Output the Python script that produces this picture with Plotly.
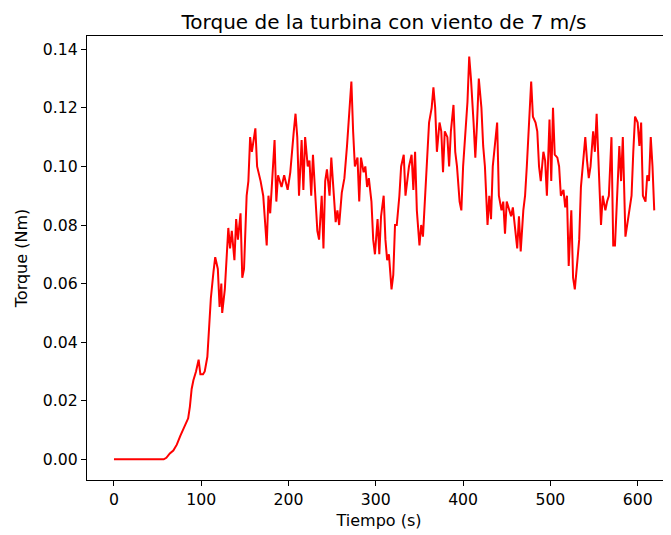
import plotly.graph_objects as go

# Time (s) and torque (Nm)
tiempo = [0, 10, 20, 30, 40, 50, 57, 60, 64, 68, 72, 76, 79, 82, 85, 87, 89, 91, 94, 97, 99,
          102, 104, 107, 109, 111, 114, 116, 119, 121, 123, 124, 127, 129, 131, 133, 135, 138,
          140, 142, 145, 147, 149, 152, 154, 156, 158, 162, 164, 168, 171, 175, 177, 179, 182,
          184, 186, 188, 192, 195, 199, 202, 206, 208, 210, 212, 215, 217, 219, 222, 224, 226,
          228, 231, 233, 235, 238, 240, 242, 244, 247, 249, 251, 254, 256, 258, 261, 264, 267,
          270, 272, 274, 276, 279, 281, 283, 286, 288, 290, 292, 295, 297, 299, 302, 304, 306,
          309, 311, 313, 315, 318, 320, 322, 324, 327, 329, 332, 334, 336, 338, 341, 343, 345,
          347, 350, 352, 354, 357, 359, 361, 364, 366, 368, 370, 373, 375, 377, 379, 382, 384,
          386, 389, 391, 393, 396, 398, 400, 403, 405, 407, 409, 412, 414, 416, 418, 421, 423,
          425, 428, 430, 432, 434, 437, 439, 441, 444, 446, 448, 450, 453, 455, 457, 460, 462,
          464, 466, 469, 471, 473, 476, 478, 480, 483, 485, 487, 489, 492, 494, 496, 499, 501,
          503, 505, 508, 510, 512, 515, 517, 519, 521, 524, 526, 528, 531, 533, 535, 537, 540,
          542, 544, 546, 549, 551, 553, 556, 558, 560, 563, 565, 567, 570, 572, 574, 576, 579,
          581, 583, 586, 588, 590, 593, 595, 597, 600, 602, 604, 606, 609, 611, 613, 615, 617,
          619]
torque = [0.0, 0.0, 0.0, 0.0, 0.0, 0.0, 0.0, 0.0005, 0.002, 0.003, 0.005, 0.008, 0.010, 0.012,
          0.014, 0.018, 0.024, 0.027, 0.030, 0.034, 0.029, 0.029, 0.030, 0.035, 0.045, 0.055,
          0.064, 0.069, 0.065, 0.052, 0.060, 0.050, 0.058, 0.070, 0.079, 0.072, 0.078, 0.068,
          0.082, 0.075, 0.084, 0.062, 0.065, 0.090, 0.095, 0.110, 0.105, 0.113, 0.100, 0.095,
          0.090, 0.073, 0.090, 0.084, 0.100, 0.109, 0.088, 0.097, 0.093, 0.097, 0.092, 0.098,
          0.112, 0.118, 0.110, 0.090, 0.109, 0.092, 0.110, 0.100, 0.102, 0.090, 0.104, 0.090,
          0.078, 0.075, 0.090, 0.072, 0.095, 0.099, 0.090, 0.103, 0.093, 0.081, 0.085, 0.080,
          0.091, 0.096, 0.107, 0.120, 0.129, 0.112, 0.100, 0.103, 0.088, 0.103, 0.098, 0.100,
          0.093, 0.096, 0.088, 0.075, 0.070, 0.082, 0.070, 0.083, 0.090, 0.075, 0.068, 0.070,
          0.058, 0.063, 0.080, 0.080, 0.090, 0.100, 0.104, 0.090, 0.096, 0.100, 0.104, 0.092,
          0.105, 0.085, 0.073, 0.080, 0.076, 0.093, 0.103, 0.115, 0.120, 0.127, 0.120, 0.105,
          0.115, 0.112, 0.098, 0.112, 0.110, 0.100, 0.112, 0.121, 0.105, 0.100, 0.088, 0.085,
          0.100, 0.115, 0.122, 0.1375, 0.130, 0.115, 0.103, 0.115, 0.130, 0.120, 0.107, 0.100,
          0.080, 0.090, 0.082, 0.100, 0.108, 0.115, 0.090, 0.085, 0.088, 0.077, 0.088, 0.085,
          0.083, 0.086, 0.076, 0.072, 0.083, 0.071, 0.085, 0.090, 0.100, 0.115, 0.129, 0.117,
          0.115, 0.112, 0.100, 0.095, 0.105, 0.102, 0.090, 0.116, 0.095, 0.120, 0.104, 0.103,
          0.100, 0.090, 0.092, 0.086, 0.090, 0.066, 0.085, 0.062, 0.058, 0.068, 0.075, 0.093,
          0.100, 0.110, 0.102, 0.096, 0.100, 0.112, 0.105, 0.118, 0.095, 0.080, 0.090, 0.085,
          0.088, 0.090, 0.110, 0.073, 0.073, 0.085, 0.107, 0.095, 0.110, 0.076, 0.080, 0.084,
          0.090, 0.105, 0.117, 0.115, 0.107, 0.115, 0.090, 0.088, 0.097, 0.095, 0.110, 0.100,
          0.085]

x_ticks = [0, 100, 200, 300, 400, 500, 600]
y_ticks = [0.00, 0.02, 0.04, 0.06, 0.08, 0.10, 0.12, 0.14]

# page body has an 8px margin, so the figure is made 8px smaller and shifted
OFF = 8
W, H = 671 - OFF, 535 - OFF
L, T, B = 87 - OFF, 36 - OFF, 55

fig = go.Figure(go.Scatter(x=tiempo, y=torque, mode="lines",
                           line=dict(color="#ff0000", width=2), showlegend=False))

tick_font = dict(family="DejaVu Sans", size=15.7, color="black")
lab_font = dict(family="DejaVu Sans", size=16, color="black")
fig.update_layout(
    width=W, height=H,
    margin=dict(l=L, r=0, t=T, b=B, pad=0),
    plot_bgcolor="white", paper_bgcolor="white",
    font=tick_font,
    title=dict(text="Torque de la turbina con viento de 7 m/s",
               font=dict(family="DejaVu Sans", size=20, color="black"),
               x=(384 - OFF) / W, xref="container", xanchor="center",
               y=1 - (22 - OFF) / H, yref="container", yanchor="middle", automargin=False),
    xaxis=dict(range=[-30.9, 638.2], tickvals=x_ticks, ticktext=[str(v) for v in x_ticks],
               showgrid=False, zeroline=False, showline=True, mirror=True,
               linecolor="black", linewidth=1.1, ticks="outside", ticklen=5,
               tickwidth=1.1, tickcolor="black", tickfont=tick_font, automargin=False,
               title=dict(text="Tiempo (s)", font=lab_font, standoff=6)),
    yaxis=dict(range=[-0.00707, 0.14454], tickvals=y_ticks,
               ticktext=[f"{v:.2f}" for v in y_ticks],
               showgrid=False, zeroline=False, showline=True, mirror=False,
               linecolor="black", linewidth=1.1, ticks="outside", ticklen=5,
               tickwidth=1.1, tickcolor="black", tickfont=tick_font, automargin=False,
               title=dict(text="Torque (Nm)", font=lab_font, standoff=11)),
)

fig.write_html("out.html")
